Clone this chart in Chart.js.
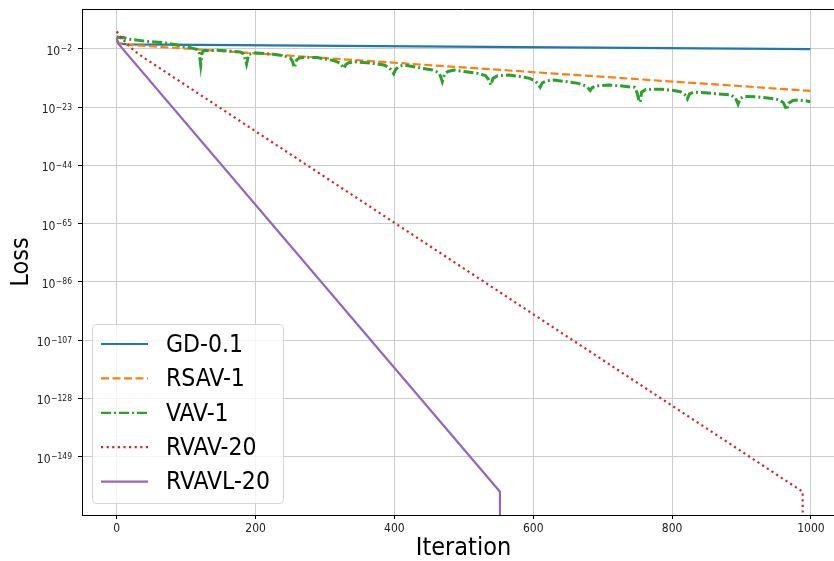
<!DOCTYPE html>
<html>
<head>
<meta charset="utf-8">
<script src="https://cdn.jsdelivr.net/npm/chart.js@4.4.0/dist/chart.umd.min.js"></script>
<style>
  html, body { margin: 0; padding: 0; background: #fff; overflow: hidden; }
  #wrap { width: 834px; height: 561px; overflow: hidden; }
</style>
</head>
<body>
<div id="wrap"><canvas id="lossChart" width="846" height="561"></canvas></div>
<script>
'use strict';

// loss values are stored as log10(loss); -300 marks the underflow to zero
var seriesNames = ['GD-0.1', 'RSAV-1', 'VAV-1', 'RVAV-20', 'RVAVL-20'];

var gdIter = [0, 3, 15, 999];
var gdLoss = [0.9, 0.0, -0.35, -2.1];

var rsavIter = [0, 4, 20, 999];
var rsavLoss = [1.2, -0.3, -0.55, -17.1];

var vavIter = [0, 5, 10, 16, 25, 35, 45, 55, 65, 73, 85, 97, 102, 110, 116, 119, 121, 123, 126, 130, 145, 160, 169, 178, 183, 187, 190, 197,
  210, 225, 241, 250, 253, 256, 259, 263, 270, 289, 300, 313, 321, 324, 327, 330, 335, 343, 360, 373, 385, 392, 396, 399, 402, 407, 414,
  428, 441, 455, 463, 466, 469, 472, 477, 486, 500, 520, 531, 535, 539, 542, 548, 565, 580, 595, 603, 607, 610, 613, 619, 630, 645, 665,
  675, 679, 682, 685, 692, 709, 725, 740, 746, 749, 752, 754, 756, 762, 784, 800, 812, 818, 822, 825, 831, 847, 865, 885, 891, 895, 898,
  905, 919, 935, 953, 960, 965, 968, 974, 981, 990, 999];
var vavLoss = [2.4, 2.0, 2.1, 1.6, 1.3, 1.0, 0.7, 0.5, 0.3, 0.05, -0.5, -1.2, -1.3, -1.8, -2.2, -3.6, -7.8, -3.4, -2.5, -2.6, -2.5, -2.7, -2.9, -3.1, -3.8, -7.5, -4.0, -3.4,
  -3.6, -3.9, -4.5, -5.2, -6.4, -8.8, -6.0, -5.3, -5.0, -5.1, -5.6, -6.2, -7.0, -7.9, -9.0, -7.6, -6.9, -6.6, -7.0, -7.3, -7.8, -8.6, -9.8, -11.0, -9.3, -8.2, -7.8,
  -8.4, -9.0, -9.6, -10.4, -11.6, -13.8, -11.2, -10.1, -9.6, -10.1, -10.8, -11.6, -12.8, -15.0, -12.6, -11.7, -11.4, -11.9, -12.6, -13.6, -14.6, -15.8, -14.2, -13.5, -13.2, -13.7, -14.4,
  -15.3, -16.1, -17.0, -15.9, -15.3, -15.0, -15.3, -15.7, -15.8, -17.4, -20.2, -21.2, -17.6, -16.6, -16.5, -16.9, -17.4, -18.4, -20.0, -18.2, -17.6, -17.8, -18.2, -18.6, -19.6, -21.9, -19.8,
  -19.1, -19.2, -19.6, -20.2, -21.3, -24.0, -21.6, -20.6, -20.4, -20.6, -21.0];

var rvavIter = [0, 5, 10, 15, 25, 37, 988, 989];
var rvavLoss = [4.3, 2.6, 1.2, -0.2, -2.6, -4.8, -161.6, -300];

var rvavlIter = [0, 2, 552, 553];
var rvavlLoss = [2.0, 0.0, -161.6, -300];

var xTicks = [0, 200, 400, 600, 800, 1000];
var yTickExp = [-2, -23, -44, -65, -86, -107, -128, -149];

var colors = ['#1f77b4', '#ff7f0e', '#2ca02c', '#d62728', '#9467bd'];
var dashes = [[], [8, 3.5], [10, 3, 2, 3], [2.2, 3.4], []];
var fontFamily = "'DejaVu Sans Condensed', 'DejaVu Sans', sans-serif";

function toPoints(iters, losses) {
    return iters.map(function (it, i) { return {x: it, y: losses[i]}; });
}

var allIters = [gdIter, rsavIter, vavIter, rvavIter, rvavlIter];
var allLosses = [gdLoss, rsavLoss, vavLoss, rvavLoss, rvavlLoss];

var datasets = seriesNames.map(function (name, i) {
    return {
        label: name,
        data: toPoints(allIters[i], allLosses[i]),
        borderColor: colors[i],
        borderWidth: i === 2 ? 3 : 2.2,
        borderDash: dashes[i],
        pointRadius: 0,
        tension: 0,
        fill: false,
        order: 4 - i
    };
});

// y labels as 10 with a raised exponent, placed on the scale's own ticks
var powerLabels = {
    id: 'powerLabels',
    afterDraw: function (chart) {
        var ctx = chart.ctx;
        var ys = chart.scales.y;
        var right = ys.right - 10;
        ctx.save();
        ctx.fillStyle = '#222';
        ctx.textAlign = 'right';
        ctx.textBaseline = 'alphabetic';
        ys.ticks.forEach(function (t) {
            var y = ys.getPixelForValue(t.value);
            var exp = String(t.value).replace('-', '\u2212');
            ctx.font = '8.5px ' + fontFamily;
            var ew = ctx.measureText(exp).width;
            ctx.fillText(exp, right, y + 2.5);
            ctx.font = '12px ' + fontFamily;
            ctx.fillText('10', right - ew - 0.5, y + 5.8);
        });
        ctx.restore();
    }
};

var legendBox = {
    id: 'legendBox',
    afterDatasetsDraw: function (chart) {
        var ctx = chart.ctx;
        var area = chart.chartArea;
        ctx.save();
        ctx.beginPath();
        ctx.strokeStyle = '#000';
        ctx.lineWidth = 1;
        ctx.moveTo(area.left, area.top + 0.5);
        ctx.lineTo(area.right, area.top + 0.5);
        ctx.stroke();

        ctx.beginPath();
        ctx.roundRect(92.5, 324.5, 191, 179, 4);
        ctx.fillStyle = 'rgba(255,255,255,0.8)';
        ctx.fill();
        ctx.strokeStyle = 'rgba(204,204,204,0.8)';
        ctx.stroke();

        chart.data.datasets.forEach(function (ds, i) {
            var y = 344 + i * 34.4;
            ctx.beginPath();
            ctx.setLineDash(ds.borderDash);
            ctx.strokeStyle = ds.borderColor;
            ctx.lineWidth = 2.2;
            ctx.moveTo(101, y);
            ctx.lineTo(148, y);
            ctx.stroke();
            ctx.setLineDash([]);
            ctx.fillStyle = '#000';
            ctx.font = '24.5px ' + fontFamily;
            ctx.textBaseline = 'middle';
            ctx.textAlign = 'left';
            ctx.fillText(ds.label, 166, y + 1.5);
        });
        ctx.restore();
    }
};

var ctx = document.getElementById('lossChart');
var chart = new Chart(ctx, {
    type: 'line',
    data: {datasets: datasets},
    options: {
        responsive: false,
        animation: false,
        devicePixelRatio: 1,
        layout: {padding: {top: 9, right: 1, left: 0, bottom: 0}},
        plugins: {legend: {display: false}, tooltip: {enabled: false}},
        scales: {
            x: {
                type: 'linear',
                min: -50,
                max: 1049,
                afterBuildTicks: function (scale) {
                    scale.ticks = xTicks.map(function (v) { return {value: v}; });
                },
                afterFit: function (scale) { scale.height = 46; },
                ticks: {
                    callback: function (v) { return String(v); },
                    font: {size: 12, family: fontFamily},
                    color: '#222',
                    padding: 3,
                    maxRotation: 0,
                    autoSkip: false
                },
                grid: {color: '#cdcdcd', lineWidth: 1, tickLength: 4, tickColor: '#000'},
                border: {color: '#000', width: 1},
                title: {
                    display: true,
                    text: 'Iteration',
                    color: '#000',
                    font: {size: 25, family: fontFamily, lineHeight: 1},
                    padding: 0
                }
            },
            y: {
                type: 'linear',
                min: -170,
                max: 12.4,
                afterBuildTicks: function (scale) {
                    scale.ticks = yTickExp.map(function (v) { return {value: v}; });
                },
                afterFit: function (scale) { scale.width = 82; },
                ticks: {
                    callback: function () { return ''; },
                    font: {size: 1, family: fontFamily},
                    padding: 6,
                    autoSkip: false
                },
                grid: {color: '#cdcdcd', lineWidth: 1, tickLength: 4, tickColor: '#000'},
                border: {color: '#000', width: 1},
                title: {
                    display: true,
                    text: 'Loss',
                    color: '#000',
                    font: {size: 25, family: fontFamily, lineHeight: 1},
                    padding: {top: 9, bottom: 0}
                }
            }
        }
    },
    plugins: [legendBox, powerLabels]
});
</script>
</body>
</html>
